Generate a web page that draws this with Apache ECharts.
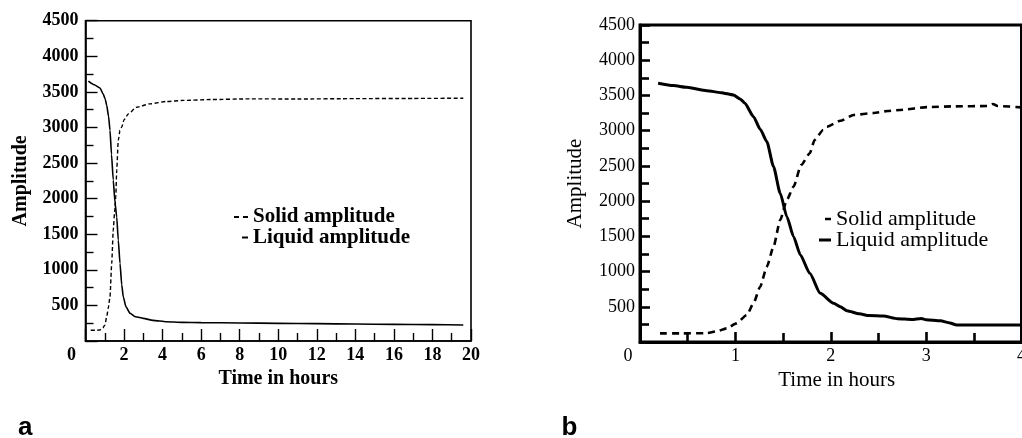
<!DOCTYPE html>
<html>
<head>
<meta charset="utf-8">
<script src="https://cdn.jsdelivr.net/npm/echarts@6/dist/echarts.min.js"></script>
<style>
html,body{margin:0;padding:0;background:#fff;}
#chart{width:1022px;height:438px;}
</style>
</head>
<body>
<div id="chart"></div>
<script>
// ---- Data (time in hours, amplitude) ----
const seriesNames = ['Solid amplitude', 'Liquid amplitude'];
const panelLabels = ['a', 'b'];
const xTicksA = {min: 0, max: 20, interval: 2};
const xTicksB = {min: 0, max: 4, interval: 1};
const yTicks = {min: 0, max: 4500, interval: 500};

// Panel a: 0–20 h
const solidA = [[0.27,150],[0.5,150],[0.75,155],[0.9,185],[1.01,225],[1.1,340],[1.18,460],[1.27,620],[1.36,1090],[1.44,1560],[1.52,1850],[1.57,2020],[1.62,2400],[1.7,2820],[1.79,2960],[1.88,3005],[2.0,3110],[2.22,3190],[2.65,3285],[3.35,3332],[4.2,3365],[5.07,3380],[6.5,3392],[8.5,3402],[11,3400],[14,3405],[17,3408],[19.6,3411]];
const liquidA = [[0.15,3650],[0.45,3600],[0.75,3555],[0.92,3470],[1.02,3400],[1.1,3310],[1.2,3150],[1.27,2960],[1.35,2620],[1.44,2260],[1.53,1950],[1.62,1740],[1.7,1420],[1.79,1090],[1.88,790],[1.96,620],[2.1,480],[2.31,390],[2.6,340],[3.0,318],[3.5,290],[4.2,271],[5,262],[6,258],[8,253],[10,248],[12,244],[14,238],[16,234],[18,230],[19.6,225]];

// Panel b: 0–4 h
const solidB = [[0.21,123],[0.45,123],[0.7,125],[0.8,150],[0.91,194],[1.01,265],[1.12,383],[1.19,549],[1.26,785],[1.33,1069],[1.4,1353],[1.47,1732],[1.54,2016],[1.61,2205],[1.69,2513],[1.78,2679],[1.83,2868],[1.92,3010],[1.96,3056],[2.1,3140],[2.24,3223],[2.45,3250],[2.6,3280],[2.73,3294],[3.02,3335],[3.3,3345],[3.65,3350],[3.7,3378],[3.75,3350],[4.0,3330]];
const liquidB = [[0.19,3673],[0.35,3640],[0.49,3616],[0.7,3568],[0.85,3540],[0.98,3507],[1.05,3450],[1.1,3389],[1.19,3199],[1.26,3020],[1.33,2844],[1.4,2489],[1.47,2111],[1.54,1779],[1.61,1495],[1.68,1240],[1.78,975],[1.89,691],[2.03,549],[2.1,501],[2.17,445],[2.3,400],[2.4,375],[2.55,370],[2.7,330],[2.85,320],[2.95,335],[3.0,315],[3.15,300],[3.25,270],[3.32,241],[3.6,241],[4.0,241]];

const SERIF = "'Liberation Serif', 'Times New Roman', serif";
const SANS = "'Liberation Sans', Arial, sans-serif";

function xAxisFor(grid, ticks, o) {
  return {
    gridIndex: grid, type: 'value', min: ticks.min, max: ticks.max, interval: ticks.interval,
    axisLine: {show: true, lineStyle: {color: '#000', width: o.axisW}},
    axisTick: {show: true, inside: true, length: o.tickLen, lineStyle: {color: '#000', width: o.tickW}},
    minorTick: {show: true, splitNumber: 2, length: o.minorLen, lineStyle: {color: '#000', width: o.tickW}},
    splitLine: {show: false},
    axisLabel: {
      color: '#000', fontFamily: SERIF, fontSize: o.fs, fontWeight: o.fw, margin: 5,
      formatter: v => v === 0 ? '{z|0}' : String(v),
      rich: {
        z: {color: '#000', fontFamily: SERIF, fontSize: o.fs, fontWeight: o.fw, padding: [0, o.zeroShift * 2, 0, 0]}
      }
    },
    name: 'Time in hours', nameLocation: 'middle', nameGap: o.nameGap,
    nameTextStyle: {color: '#000', fontFamily: SERIF, fontSize: o.nameFs, fontWeight: o.fw, padding: o.namePad}
  };
}
function yAxisFor(grid, o) {
  return {
    gridIndex: grid, type: 'value', min: yTicks.min, max: yTicks.max, interval: yTicks.interval,
    axisLine: {show: true, lineStyle: {color: '#000', width: o.axisW}},
    axisTick: {show: true, inside: true, length: o.tickLen, lineStyle: {color: '#000', width: o.tickW}},
    minorTick: {show: true, splitNumber: 2, length: o.minorLen, lineStyle: {color: '#000', width: o.tickW}},
    splitLine: {show: false},
    axisLabel: {color: '#000', fontFamily: SERIF, fontSize: o.fs, fontWeight: o.fw, margin: o.yMargin,
      formatter: v => v === 0 ? '' : String(v)},
    name: 'Amplitude', nameLocation: 'middle', nameGap: o.yNameGap,
    nameTextStyle: {color: '#000', fontFamily: SERIF, fontSize: o.nameFs, fontWeight: o.fw}
  };
}
const styA = {axisW: 1.6, tickW: 1.4, tickLen: 12, minorLen: 8, fs: 18, fw: 'bold', nameFs: 20, nameGap: 24, namePad: [0,0,0,0], zeroShift: 14, yMargin: 7, yNameGap: 55};
const styB = {axisW: 3, tickW: 2.6, tickLen: 10, minorLen: 9, fs: 18, fw: 'normal', nameFs: 21, nameGap: 26, namePad: [0,0,0,12], zeroShift: 12, yMargin: 5, yNameGap: 54};

function legendFor(name, left, cy, o) {
  return {
    data: [name], left: left, top: cy - o.legFs / 2, orient: 'vertical', padding: 0,
    itemWidth: o.iw, itemHeight: o.ih, icon: o.icon, selectedMode: false,
    itemStyle: {color: '#000', borderWidth: 0},
    textStyle: {color: '#000', fontFamily: SERIF, fontSize: o.legFs, fontWeight: o.fw}
  };
}

const chart = echarts.init(document.getElementById('chart'), null, {renderer: 'canvas'});
chart.setOption({
  animation: false,
  backgroundColor: '#fff',
  grid: [
    {left: 85.5, top: 20.7, width: 385.5, height: 320.3, show: true, borderColor: '#000', borderWidth: 1.6, containLabel: false, outerBoundsMode: 'none'},
    {left: 640, top: 25, width: 381.5, height: 317, show: true, borderColor: '#000', borderWidth: 3, containLabel: false, outerBoundsMode: 'none'}
  ],
  xAxis: [xAxisFor(0, xTicksA, styA), xAxisFor(1, xTicksB, styB)],
  yAxis: [yAxisFor(0, styA), yAxisFor(1, styB)],
  legend: [
    legendFor(seriesNames[0], 234, 217, {iw: 14, ih: 2, icon: 'path://M0,0h5v2h-5zM9,0h5v2h-5z', legFs: 21, fw: 'bold'}),
    legendFor(seriesNames[1], 242, 237.5, {iw: 6, ih: 2, icon: 'rect', legFs: 21, fw: 'bold'}),
    legendFor(seriesNames[0], 825, 219, {iw: 6, ih: 2.5, icon: 'rect', legFs: 22, fw: 'normal'}),
    legendFor(seriesNames[1], 819, 240, {iw: 12, ih: 3, icon: 'rect', legFs: 22, fw: 'normal'})
  ],
  graphic: [
    {type: 'text', left: 18, top: 414.6, style: {text: panelLabels[0], font: 'bold 26px ' + SANS, fill: '#000'}},
    {type: 'text', left: 561.5, top: 414.6, style: {text: panelLabels[1], font: 'bold 26px ' + SANS, fill: '#000'}}
  ],
  series: [
    {name: seriesNames[0], type: 'line', xAxisIndex: 0, yAxisIndex: 0, data: solidA, symbol: 'none', showSymbol: false,
      smooth: 0.2, smoothMonotone: 'x',
      itemStyle: {color: '#000'}, lineStyle: {color: '#000', width: 1.4, type: [4, 2.5]}},
    {name: seriesNames[1], type: 'line', xAxisIndex: 0, yAxisIndex: 0, data: liquidA, symbol: 'none', showSymbol: false,
      smooth: 0.2, smoothMonotone: 'x',
      itemStyle: {color: '#000'}, lineStyle: {color: '#000', width: 1.6}},
    {name: seriesNames[0], type: 'line', xAxisIndex: 1, yAxisIndex: 1, data: solidB, symbol: 'none', showSymbol: false,
      smooth: 0.2, smoothMonotone: 'x',
      itemStyle: {color: '#000'}, lineStyle: {color: '#000', width: 2.6, type: [7, 5]}},
    {name: seriesNames[1], type: 'line', xAxisIndex: 1, yAxisIndex: 1, data: liquidB, symbol: 'none', showSymbol: false,
      smooth: 0.2, smoothMonotone: 'x',
      itemStyle: {color: '#000'}, lineStyle: {color: '#000', width: 3}}
  ]
});
</script>
</body>
</html>
